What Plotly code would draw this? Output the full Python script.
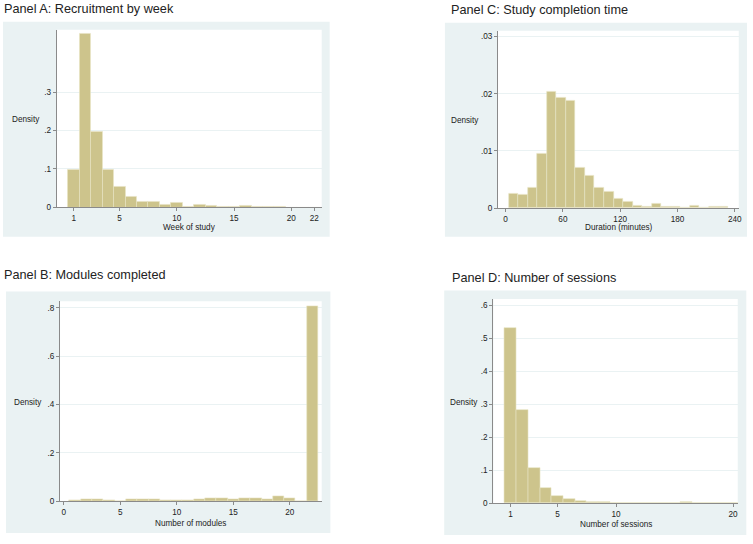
import plotly.graph_objects as go

# ---------------- data ----------------
# Panel A: Recruitment by week (density per week 1..22)
weeks = list(range(1, 23))
week_density = [0.098, 0.452, 0.198, 0.099, 0.053, 0.028, 0.014, 0.016, 0.007, 0.013,
                0.001, 0.006, 0.004, 0.001, 0.001, 0.005, 0.003, 0.0005, 0.002, 0.0, 0.0, 0.0]

# Panel C: Study completion time (bins of 10 minutes starting at 3)
duration_mid = [8, 18, 28, 38, 48, 58, 68, 78, 88, 98, 108, 118, 128, 138, 148, 158,
                168, 178, 188, 198, 208, 218, 228]
duration_density = [0.0025, 0.0023, 0.0036, 0.0095, 0.0203, 0.0193, 0.0187, 0.0070,
                    0.0056, 0.0036, 0.0028, 0.0017, 0.0011, 0.0004, 0.0002, 0.00075,
                    0.0002, 0.0002, 0.0, 0.0004, 0.0, 0.0002, 0.0002]

# Panel B: Modules completed
modules = list(range(1, 23))
module_density = [0.003, 0.008, 0.007, 0.004, 0.001, 0.008, 0.007, 0.008, 0.004, 0.003,
                  0.003, 0.008, 0.011, 0.012, 0.007, 0.012, 0.011, 0.007, 0.022, 0.011,
                  0.0, 0.807]

# Panel D: Number of sessions
sessions = list(range(1, 21))
session_density = [0.532, 0.284, 0.108, 0.046, 0.021, 0.013, 0.007, 0.004, 0.004, 0.001,
                   0.001, 0.001, 0.001, 0.001, 0.001, 0.003, 0.001, 0.001, 0.001, 0.001]

# tick labels
a_xticks = [1, 5, 10, 15, 20, 22]
a_yticks = [0, 0.1, 0.2, 0.3]
a_ylabels = ["0", ".1", ".2", ".3"]
c_xticks = [0, 60, 120, 180, 240]
c_yticks = [0, 0.01, 0.02, 0.03]
c_ylabels = ["0", ".01", ".02", ".03"]
b_xticks = [0, 5, 10, 15, 20]
b_yticks = [0, 0.2, 0.4, 0.6, 0.8]
b_ylabels = ["0", ".2", ".4", ".6", ".8"]
d_xticks = [1, 5, 10, 20]
d_yticks = [0, 0.1, 0.2, 0.3, 0.4, 0.5, 0.6]
d_ylabels = ["0", ".1", ".2", ".3", ".4", ".5", ".6"]

# ---------------- style ----------------
W, H = 753, 544
FONT = "Liberation Sans, Arial, Helvetica, sans-serif"
BAR = "rgb(205,196,140)"
BARLINE = "rgb(232,228,196)"
BG = "#EAF2F3"
AXIS = "#8a8a8a"
TICKFONT = dict(family=FONT, size=8.2, color="#222")


def px_x(p):
    return p / W


def px_y(p):
    return 1 - p / H


fig = go.Figure()

panels = [
    ("", weeks, week_density, 1.0, (57, 323, 30, 209.3), [-0.48, 22.65], [0, 0.462],
     a_xticks, a_yticks, a_ylabels),
    ("2", duration_mid, duration_density, 10.0, (500, 741.7, 31, 210), [-8.0, 244.2], [0, 0.031],
     c_xticks, c_yticks, c_ylabels),
    ("3", modules, module_density, 1.0, (60.3, 323, 304, 505.7), [-0.33, 22.82], [0, 0.827],
     b_xticks, b_yticks, b_ylabels),
    ("4", sessions, session_density, 1.0, (495.3, 740.7, 301.7, 507.7), [-0.48, 20.4], [0, 0.62],
     d_xticks, d_yticks, d_ylabels),
]

layout_axes = {}
for name, xs, ys, wdt, box, xr, yr, xt, yt, yl in panels:
    x0, x1, yt0, yb0 = box
    fig.add_trace(go.Bar(
        x=xs, y=ys, width=wdt,
        marker=dict(color=BAR, line=dict(color=BARLINE, width=0.6)),
        xaxis="x" + name, yaxis="y" + name, showlegend=False,
    ))
    layout_axes["xaxis" + name] = dict(
        domain=[px_x(x0), px_x(x1)], range=xr, anchor="y" + name,
        tickmode="array", tickvals=xt, ticktext=[str(v) for v in xt],
        showline=True, linecolor=AXIS, linewidth=1, ticks="outside", ticklen=3,
        tickcolor=AXIS, tickfont=TICKFONT, showgrid=False, zeroline=False, fixedrange=True,
    )
    layout_axes["yaxis" + name] = dict(
        domain=[px_y(yb0), px_y(yt0)], range=yr, anchor="x" + name,
        tickmode="array", tickvals=yt, ticktext=yl,
        showline=True, linecolor=AXIS, linewidth=1, ticks="outside", ticklen=3,
        tickcolor=AXIS, tickfont=TICKFONT, showgrid=True, gridcolor=BG, gridwidth=1,
        zeroline=False, fixedrange=True,
    )

# background boxes (graph regions)
boxes = [(3, 331, 22, 239), (446.7, 750, 23, 239), (6, 331.7, 294.3, 538), (446, 749.3, 293.3, 540)]
shapes = [dict(type="rect", xref="paper", yref="paper", x0=px_x(a), x1=px_x(b), y0=px_y(d), y1=px_y(c),
               fillcolor=BG, line=dict(width=0), layer="below") for a, b, c, d in boxes]
for name, xs, ys, wdt, box, *_ in panels:
    x0, x1, yt0, yb0 = box
    shapes.append(dict(type="rect", xref="paper", yref="paper", x0=px_x(x0), x1=px_x(x1),
                       y0=px_y(yb0), y1=px_y(yt0), fillcolor="white", line=dict(width=0), layer="below"))

annotations = []
titles = [("Panel A: Recruitment by week", 3, 9),
          ("Panel C: Study completion time", 451.5, 10.5),
          ("Panel B: Modules completed", 2.7, 278),
          ("Panel D: Number of sessions", 452.7, 280.5)]
for txt, x, y in titles:
    annotations.append(dict(text=txt, xref="paper", yref="paper", x=px_x(x), y=px_y(y),
                            xanchor="left", yanchor="middle", showarrow=False, borderpad=0,
                            font=dict(family=FONT, size=12.7, color="#222")))

dens = [(41.5, 121), (482, 122), (43.5, 406.7), (481, 406.7)]
for x, y in dens:
    annotations.append(dict(text="Density", xref="paper", yref="paper", x=px_x(x), y=px_y(y),
                            xanchor="right", yanchor="middle", showarrow=False, borderpad=0,
                            font=dict(family=FONT, size=8.2, color="#222")))

xtitles = [("Week of study", 190, 229.5), ("Duration (minutes)", 621, 230),
           ("Number of modules", 191.7, 528.5), ("Number of sessions", 618.5, 529.5)]
for txt, x, y in xtitles:
    annotations.append(dict(text=txt, xref="paper", yref="paper", x=px_x(x), y=px_y(y),
                            xanchor="center", yanchor="middle", showarrow=False, borderpad=0,
                            font=dict(family=FONT, size=8.2, color="#222")))

fig.update_layout(
    width=W, height=H, margin=dict(l=0, r=0, t=0, b=0),
    paper_bgcolor="white", plot_bgcolor="white", bargap=0,
    shapes=shapes, annotations=annotations, **layout_axes,
)

fig.write_html("out.html", config={"displayModeBar": False},
               post_script="document.body.style.margin='0';document.body.style.overflow='hidden';")
